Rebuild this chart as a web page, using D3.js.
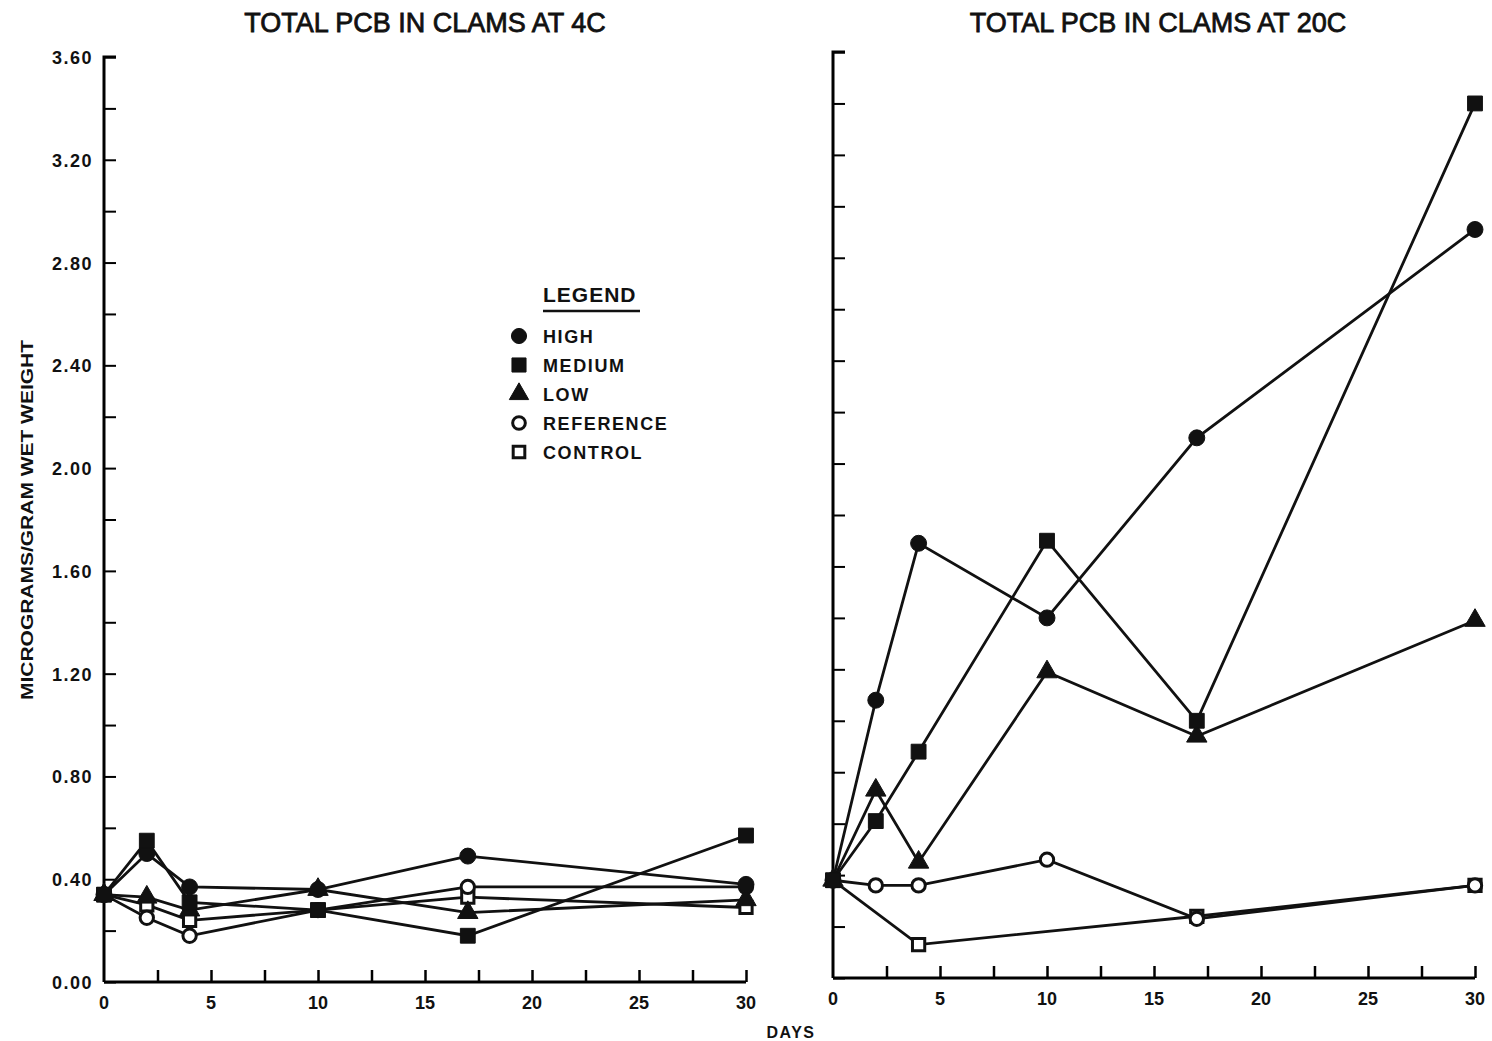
<!DOCTYPE html>
<html>
<head>
<meta charset="utf-8">
<script src="https://cdn.jsdelivr.net/npm/d3@7"></script>
<style>
  body { margin: 0; background: #fff; }
  text { font-family: "Liberation Sans", Arial, sans-serif; fill: #111; }
</style>
</head>
<body>
<div id="viz"></div>
<script>
// sampling days
var days = [0, 2, 4, 10, 17, 30];
var seriesNames = ["HIGH", "MEDIUM", "LOW", "REFERENCE", "CONTROL"];

// total PCB at 4C (micrograms / gram wet weight)
var cold_high      = [0.34, 0.50, 0.37, 0.36, 0.49, 0.38];
var cold_medium    = [0.34, 0.55, 0.31, 0.28, 0.18, 0.57];
var cold_low       = [0.34, 0.33, 0.28, 0.36, 0.27, 0.32];
var cold_reference = [0.34, 0.25, 0.18, 0.28, 0.37, 0.37];
var cold_control   = [0.34, 0.30, 0.24, 0.28, 0.33, 0.29];

// total PCB at 20C
var warm_high      = [0.38, 1.08, 1.69, 1.40, 2.10, 2.91];
var warm_medium    = [0.38, 0.61, 0.88, 1.70, 1.00, 3.40];
var warm_low       = [0.38, 0.73, 0.45, 1.19, 0.94, 1.39];
var warm_reference = [0.38, 0.36, 0.36, 0.46, 0.23, 0.36];
var warm_control   = [0.38, null, 0.13, null, 0.24, 0.36];

var yTickLabels = ["0.00", "0.40", "0.80", "1.20", "1.60", "2.00", "2.40", "2.80", "3.20", "3.60"];
var xTickLabels = [0, 5, 10, 15, 20, 25, 30];

var svg = d3.select("#viz").append("svg")
  .attr("width", 1492)
  .attr("height", 1041);

var symbols = {
  HIGH:      { type: d3.symbolCircle,   size: 200, open: false },
  MEDIUM:    { type: d3.symbolSquare,   size: 220, open: false },
  LOW:       { type: d3.symbolTriangle, size: 180, open: false },
  REFERENCE: { type: d3.symbolCircle,   size: 140, open: true },
  CONTROL:   { type: d3.symbolSquare,   size: 150, open: true }
};

function toPoints(vals) {
  return days.map(function (d, i) { return { day: d, v: vals[i] }; })
    .filter(function (p) { return p.v !== null; });
}

function panel(opts) {
  var x = d3.scaleLinear().domain([0, 30]).range([opts.x0, opts.x1]);
  var y = d3.scaleLinear().domain([0, 3.6]).range([opts.y0, opts.y1]);
  var g = svg.append("g");

  // title
  g.append("text")
    .attr("x", (opts.x0 + opts.x1) / 2 + opts.titleShift)
    .attr("y", 32)
    .attr("text-anchor", "middle")
    .style("font-size", "27px")
    .style("stroke", "#111").style("stroke-width", 0.8)
    .text(opts.title);

  // y axis with inward ticks
  var yAxis = d3.axisRight(y)
    .tickValues(d3.range(0, 3.61, 0.2))
    .tickSize(12)
    .tickFormat("");
  var ya = g.append("g")
    .attr("transform", "translate(" + opts.x0 + ",0)")
    .call(yAxis);
  ya.select(".domain").attr("stroke-width", 3).attr("d", "M0," + opts.y0 + "V" + opts.y1 + "H12");
  ya.selectAll(".tick line").attr("stroke-width", 2);

  if (opts.labels) {
    g.selectAll(".ylab").data(yTickLabels).enter().append("text")
      .attr("x", opts.x0 - 11)
      .attr("y", function (d) { return y(+d) + 7; })
      .attr("text-anchor", "end")
      .style("font-size", "18px").style("font-weight", "bold")
      .style("letter-spacing", "1.5px")
      .text(function (d) { return d; });
  }

  // x axis with upward ticks
  var xAxis = d3.axisTop(x)
    .tickValues(d3.range(2.5, 30.1, 2.5))
    .tickSize(12)
    .tickFormat("");
  var xa = g.append("g")
    .attr("transform", "translate(0," + opts.y0 + ")")
    .call(xAxis);
  xa.select(".domain").attr("stroke-width", 3).attr("d", "M" + opts.x0 + ",0H" + opts.x1);
  xa.selectAll(".tick line").attr("stroke-width", 2.5);

  g.selectAll(".xlab").data(xTickLabels).enter().append("text")
    .attr("x", function (d) { return x(d); })
    .attr("y", opts.y0 + 27)
    .attr("text-anchor", "middle")
    .style("font-size", "18px").style("font-weight", "bold")
    .text(function (d) { return d; });

  var line = d3.line()
    .x(function (p) { return x(p.day); })
    .y(function (p) { return y(p.v); });

  var order = ["CONTROL", "REFERENCE", "LOW", "HIGH", "MEDIUM"];
  order.forEach(function (name) {
    g.append("path")
      .datum(toPoints(opts.data[name]))
      .attr("d", line)
      .attr("fill", "none")
      .attr("stroke", "#111")
      .attr("stroke-width", 2.8);
  });
  order.forEach(function (name) {
    var s = symbols[name];
    g.selectAll(null).data(toPoints(opts.data[name])).enter().append("path")
      .attr("transform", function (p) { return "translate(" + x(p.day) + "," + y(p.v) + ")"; })
      .attr("d", d3.symbol().type(s.type).size(s.size))
      .attr("fill", s.open ? "#fff" : "#111")
      .attr("stroke", "#111")
      .attr("stroke-width", s.open ? 3 : 1);
  });
  return { x: x, y: y };
}

panel({
  x0: 104, x1: 746, y0: 982, y1: 57, labels: true, titleShift: 0,
  title: "TOTAL PCB IN CLAMS AT 4C",
  data: { HIGH: cold_high, MEDIUM: cold_medium, LOW: cold_low, REFERENCE: cold_reference, CONTROL: cold_control }
});

panel({
  x0: 833, x1: 1475, y0: 978, y1: 52, labels: false, titleShift: 4,
  title: "TOTAL PCB IN CLAMS AT 20C",
  data: { HIGH: warm_high, MEDIUM: warm_medium, LOW: warm_low, REFERENCE: warm_reference, CONTROL: warm_control }
});

// axis titles
svg.append("text")
  .attr("transform", "translate(33,520) rotate(-90)")
  .attr("text-anchor", "middle")
  .attr("textLength", 360).attr("lengthAdjust", "spacingAndGlyphs")
  .style("font-size", "16px").style("font-weight", "bold")
  .text("MICROGRAMS/GRAM WET WEIGHT");

svg.append("text")
  .attr("x", 791).attr("y", 1038)
  .attr("text-anchor", "middle")
  .style("font-size", "16px").style("font-weight", "bold")
  .style("letter-spacing", "1.5px")
  .text("DAYS");

// legend
var legend = svg.append("g").attr("transform", "translate(519,0)");
legend.append("text")
  .attr("x", 24).attr("y", 302)
  .style("font-size", "21px").style("font-weight", "bold")
  .style("letter-spacing", "1px")
  .text("LEGEND");
legend.append("line")
  .attr("x1", 24).attr("x2", 121).attr("y1", 311).attr("y2", 311)
  .attr("stroke", "#111").attr("stroke-width", 2.5);

var legendY = d3.scalePoint().domain(seriesNames).range([336, 452]);
seriesNames.forEach(function (name) {
  var s = symbols[name];
  legend.append("path")
    .attr("transform", "translate(0," + legendY(name) + ")")
    .attr("d", d3.symbol().type(s.type).size(s.size * 0.9))
    .attr("fill", s.open ? "#fff" : "#111")
    .attr("stroke", "#111")
    .attr("stroke-width", s.open ? 3 : 1);
  legend.append("text")
    .attr("x", 24).attr("y", legendY(name) + 7)
    .style("font-size", "18px").style("font-weight", "bold")
    .style("letter-spacing", "1.6px")
    .text(name);
});
</script>
</body>
</html>
